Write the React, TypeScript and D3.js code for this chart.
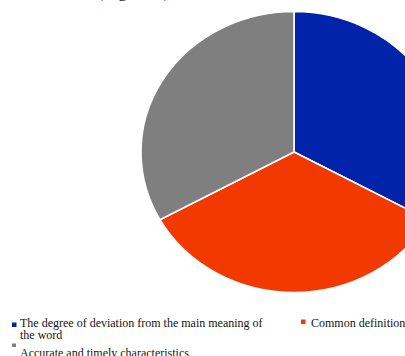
import React from "react";
import * as d3 from "d3";

const categories = [
  "The degree of deviation from the main meaning of the word",
  "Common definition",
  "Accurate and timely characteristics",
];
const values = [33, 34, 33];
const colors = ["#0023A9", "#F23A00", "#7F7F7F"];

const W = 405;
const H = 356;

export default function App() {
  const cx = 294;
  const cy = 152;
  const ry = 140.5;
  const rx = 153;
  const pie = d3
    .pie<number>()
    .sort(null)
    .value((d) => d)
    .startAngle(0)
    .endAngle(2 * Math.PI);
  const arcs = pie(values);
  const arcGen = d3.arc<d3.PieArcDatum<number>>().innerRadius(0).outerRadius(ry);
  const font = "'Liberation Serif', 'Times New Roman', serif";
  return (
    <svg
      width={W}
      height={H}
      style={{ position: "absolute", left: 0, top: 0, display: "block", background: "#fff" }}
    >
      <text x={97} y={-3.3} fontFamily={font} fontSize={18} fill="#222">
        (Figure 2)
      </text>
      <g transform={`translate(${cx},${cy}) scale(${rx / ry},1)`}>
        {arcs.map((a, i) => (
          <path
            key={i}
            d={arcGen(a) || ""}
            fill={colors[i]}
            stroke="#fff"
            strokeWidth={1.6}
            vectorEffect="non-scaling-stroke"
          />
        ))}
      </g>
      <g fontFamily={font} fontSize={12} fill="#141414">
        <rect x={12} y={322.5} width={4.5} height={4.5} fill={colors[0]} />
        <text x={20} y={327}>The degree of deviation from the main meaning of</text>
        <text x={20} y={338.5}>the word</text>
        <rect x={301} y={319.5} width={4.5} height={4.5} fill={colors[1]} />
        <text x={311} y={327}>{categories[1]}</text>
        <rect x={12} y={343.5} width={4} height={3.5} fill={colors[2]} />
        <text x={20} y={356.5}>{categories[2]}</text>
      </g>
    </svg>
  );
}
